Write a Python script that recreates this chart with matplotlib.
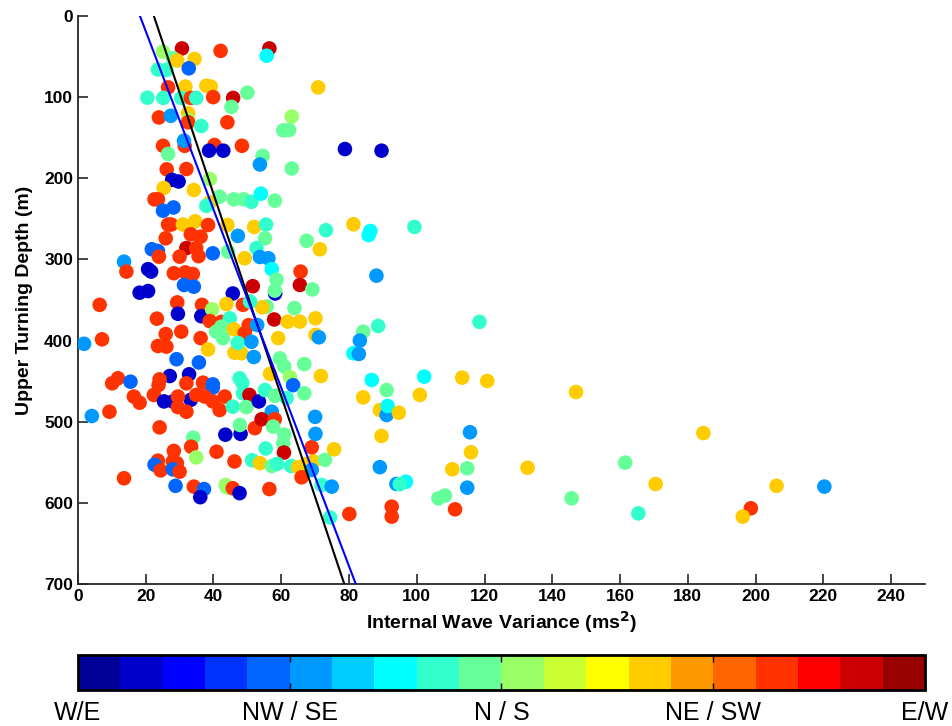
import numpy as np
import matplotlib
matplotlib.use('Agg')
import matplotlib.pyplot as plt
from matplotlib.colors import ListedColormap, BoundaryNorm
from matplotlib.cm import ScalarMappable

plt.rcParams['font.family'] = ['Liberation Sans', 'DejaVu Sans']

# internal wave variance (ms^2), upper turning depth (m), direction class (0..19)
variance = [30.7, 42.1, 25.1, 28.0, 29.3, 34.4, 23.6, 26.1, 32.7, 26.6,
            31.7, 37.9, 39.2, 50.0, 20.5, 25.2, 30.5, 33.3, 34.9, 39.9,
            45.8, 45.3, 23.9, 27.4, 32.5, 32.5, 32.5, 36.4, 44.1, 31.5,
            31.3, 25.1, 40.3, 38.7, 42.9, 48.4, 26.6, 26.2, 32.0, 38.9,
            27.8, 29.7, 25.3, 34.2, 41.8, 46.0, 48.9, 51.2, 22.6, 23.6,
            38.9, 37.9, 25.1, 28.2, 26.6, 27.5, 31.0, 34.6, 38.4, 44.1,
            56.5, 55.7, 70.9, 63.1, 60.6, 62.3, 78.8, 89.6, 54.5, 53.7,
            63.1, 54.0, 58.1, 52.0, 55.5, 73.2, 81.3, 86.3, 85.8, 99.3,
            47.2, 25.9, 33.3, 36.2, 21.8, 23.6, 32.0, 34.9, 35.6, 30.0,
            23.9, 39.8, 44.3, 49.2, 13.6, 14.3, 20.7, 21.6, 28.3, 31.7,
            33.9, 31.3, 34.2, 18.2, 20.7, 45.7, 51.6, 6.4, 29.3, 29.5,
            36.6, 36.4, 39.6, 43.8, 48.7, 23.3, 38.9, 42.3, 44.8, 42.3,
            40.8, 42.8, 46.0, 49.2, 50.4, 30.5, 25.9, 36.2, 7.1, 1.8,
            23.6, 26.1, 38.4, 46.2, 48.2, 47.2, 51.2, 51.9, 29.1, 35.7,
            27.1, 32.8, 11.8, 10.1, 15.5, 24.1, 23.8, 32.0, 36.9, 39.8,
            39.8, 47.7, 48.5, 48.7, 50.6, 16.5, 18.2, 22.4, 25.4, 28.0,
            33.3, 29.5, 29.5, 32.0, 34.9, 37.4, 39.8, 41.8, 43.3, 45.7,
            49.7, 9.3, 4.1, 24.1, 34.0, 33.4, 34.9, 43.5, 48.0, 47.8,
            52.2, 40.9, 46.2, 28.3, 23.6, 22.6, 24.4, 28.0, 29.2, 28.0,
            30.0, 13.6, 28.8, 34.2, 37.2, 36.1, 43.6, 44.0, 45.7, 47.7,
            51.4, 55.2, 52.7, 53.7, 56.2, 57.2, 67.5, 71.4, 88.1, 65.7,
            65.5, 58.6, 58.2, 58.1, 69.2, 55.7, 54.4, 63.9, 57.9, 61.9,
            65.5, 70.1, 52.9, 59.1, 70.1, 71.1, 84.2, 83.2, 88.6, 81.3,
            82.9, 59.6, 60.9, 66.8, 56.7, 62.6, 71.7, 63.5, 86.7, 91.1,
            53.4, 55.2, 58.1, 61.6, 66.8, 57.2, 70.0, 84.2, 89.1, 91.1,
            91.4, 94.7, 50.8, 54.2, 58.1, 57.6, 60.9, 60.6, 60.8, 55.4,
            53.7, 57.2, 58.8, 62.9, 65.0, 67.3, 69.5, 69.0, 66.0, 69.0,
            72.9, 75.6, 70.1, 71.9, 74.9, 74.4, 56.5, 80.1, 89.6, 89.1,
            92.6, 92.6, 94.0, 96.8, 95.0, 118.5, 102.2, 100.9, 113.4, 120.8,
            147.0, 115.7, 116.0, 110.5, 114.9, 132.7, 161.5, 170.5, 114.9, 106.4,
            108.3, 111.3, 145.7, 165.4, 184.6, 206.2, 220.3, 198.6, 196.2]

depth = [40, 43, 44, 52, 55, 53, 66, 66.5, 64.5, 88,
         87, 86, 87, 94.5, 100.7, 101, 101, 101, 101, 100,
         101, 112, 125, 123, 120, 128, 131, 135.6, 131, 160,
         153.7, 160, 159, 166, 166, 160, 170, 189, 188.6, 201,
         202, 204, 212, 214.5, 222.7, 226, 226, 229, 226, 226,
         230, 234, 240, 236, 257, 257, 257, 253, 257.6, 257.6,
         40, 49, 88, 124, 141, 140.5, 164, 166, 172.5, 183,
         188, 219, 227.6, 260, 257, 264, 256.7, 265, 270, 260,
         271, 274, 269, 272, 287.5, 289.6, 286, 286, 296, 296.6,
         296.6, 292.5, 290.5, 298.6, 302.8, 315, 312, 315, 317, 316,
         318, 331.5, 333.6, 341, 339, 342, 333, 356, 353, 367,
         356, 370, 361.5, 355, 356, 373, 376, 377, 372.6, 383,
         389, 397, 386, 391, 381, 389, 392, 397, 398.5, 404,
         406.7, 407.5, 411, 415, 415.7, 403, 401.5, 420.3, 423, 427,
         443.7, 441.6, 446.5, 452.7, 450.7, 447.8, 454.8, 452.7, 451.9, 454,
         458, 446.5, 452, 465, 467, 469, 476.6, 467, 475, 475,
         473, 469, 482, 487.7, 467, 469, 475, 485.6, 469, 481.5,
         482, 487.7, 493, 507, 519.7, 530.8, 544, 516, 515, 504,
         508, 537, 549, 536, 548, 553, 560, 549, 551, 558.7,
         561.6, 569.7, 579, 580, 583, 593, 578, 581, 582, 588,
         547.5, 274, 286, 297, 298.6, 312, 277, 287.5, 320, 315,
         331.5, 325, 342, 338.5, 337, 358, 359, 360, 374, 376.7,
         376.7, 372.6, 380.8, 397, 393, 396, 389, 400, 382, 415.7,
         416.5, 422, 432, 429, 441, 445, 443.7, 455, 448.6, 461,
         475, 461, 468, 471, 465, 487.7, 494, 470, 485.6, 491.7,
         480.6, 488.9, 352, 497, 497, 506, 516, 526.6, 538, 533,
         551, 554.6, 552, 554.6, 556, 552, 549, 559.5, 568.5, 531.5,
         547, 534, 515, 578, 580, 618, 583, 613.7, 517.6, 556,
         604.7, 617, 576.7, 574, 577, 377, 444.5, 467, 445.7, 449.8,
         463.4, 513, 537.7, 558.6, 557.4, 556.7, 550.5, 576.8, 581.3, 594.4,
         591, 608, 594.4, 613, 514, 579, 580, 606.7, 617]

direction = [18, 16, 10, 9, 13, 13, 8, 8, 4, 16,
             13, 13, 13, 9, 8, 8, 8, 16, 8, 16,
             18, 9, 16, 5, 13, 10, 16, 8, 16, 16,
             5, 16, 16, 1, 1, 16, 9, 16, 16, 10,
             1, 1, 13, 13, 9, 9, 9, 8, 16, 16,
             13, 8, 4, 4, 16, 16, 13, 13, 16, 13,
             18, 7, 13, 10, 9, 9, 1, 1, 9, 5,
             9, 7, 9, 13, 8, 8, 13, 7, 7, 8,
             5, 16, 16, 16, 4, 4, 18, 16, 16, 16,
             16, 4, 9, 13, 5, 16, 1, 1, 16, 16,
             16, 4, 4, 1, 1, 1, 18, 16, 16, 1,
             16, 1, 10, 13, 16, 16, 16, 16, 8, 9,
             9, 9, 13, 16, 16, 16, 16, 16, 16, 5,
             16, 16, 13, 13, 13, 8, 5, 5, 4, 4,
             1, 1, 16, 16, 4, 16, 16, 16, 16, 4,
             4, 8, 8, 8, 18, 16, 16, 16, 1, 1,
             1, 16, 16, 16, 16, 16, 16, 16, 16, 8,
             9, 16, 5, 16, 9, 16, 10, 1, 1, 9,
             16, 16, 16, 16, 16, 4, 16, 16, 16, 4,
             16, 16, 4, 16, 4, 1, 10, 10, 16, 1,
             8, 9, 8, 5, 5, 7, 9, 13, 5, 16,
             18, 9, 1, 9, 9, 9, 13, 9, 18, 13,
             13, 13, 5, 13, 13, 5, 9, 5, 8, 7,
             5, 9, 9, 9, 13, 10, 13, 4, 7, 9,
             1, 8, 9, 8, 9, 5, 5, 13, 13, 5,
             7, 13, 8, 18, 16, 9, 9, 9, 18, 8,
             13, 9, 8, 8, 13, 13, 13, 5, 16, 16,
             9, 13, 5, 8, 5, 8, 16, 16, 13, 5,
             16, 16, 5, 7, 8, 8, 7, 13, 13, 13,
             13, 5, 13, 13, 9, 13, 9, 13, 5, 9,
             9, 16, 9, 8, 13, 13, 5, 16, 13]

# linear fits: variance = a + b * depth
black_fit = (22.4, 0.0803)
blue_fit = (18.3, 0.091)

direction_labels = ['W/E', 'NW / SE', 'N / S', 'NE / SW', 'E/W']

# 20 level jet palette as in the colour bar
jet20 = ['#000099', '#0000CC', '#0000FF', '#0033FF', '#0066FF',
         '#0099FF', '#00CCFF', '#00FFFF', '#33FFCC', '#66FF99',
         '#99FF66', '#CCFF33', '#FFFF00', '#FFCC00', '#FF9900',
         '#FF6600', '#FF3300', '#FF0000', '#CC0000', '#990000']
cmap = ListedColormap(jet20)
norm = BoundaryNorm(np.arange(21), 20)

fig = plt.figure(figsize=(9.53, 7.26), dpi=100)
ax = fig.add_axes([0.0818, 0.1956, 0.8888, 0.7824])

ax.scatter(variance, depth, c=np.array(direction) + 0.5, cmap=cmap, norm=norm,
           s=110, edgecolors='none', zorder=3)

d = np.array([0, 700])
ax.plot(black_fit[0] + black_fit[1] * d, d, color='black', lw=1.5, zorder=4)
ax.plot(blue_fit[0] + blue_fit[1] * d, d, color='blue', lw=1.5, zorder=4)

ax.set_xlim(0, 250)
ax.set_ylim(700, 0)
ax.set_xticks(np.arange(0, 241, 20))
ax.set_yticks(np.arange(0, 701, 100))
for s in ['top', 'right']:
    ax.spines[s].set_visible(False)
for s in ['left', 'bottom']:
    ax.spines[s].set_linewidth(1.3)
    ax.spines[s].set_color('#262626')
ax.tick_params(direction='in', length=7, width=1.2, labelsize=12.5, color='#262626')
for lab in ax.get_xticklabels() + ax.get_yticklabels():
    lab.set_fontweight('bold')
ax.set_xlabel(r'Internal Wave Variance (ms$^\mathbf{2}$)', fontsize=14, fontweight='bold', labelpad=4)
ax.set_ylabel('Upper Turning Depth (m)', fontsize=14, fontweight='bold', labelpad=8)

cax = fig.add_axes([0.0818, 0.0496, 0.8888, 0.0482])
cb = fig.colorbar(ScalarMappable(norm=norm, cmap=cmap), cax=cax, orientation='horizontal')
cb.set_ticks([0, 5, 10, 15, 20])
cb.minorticks_off()
cb.set_ticklabels(direction_labels)
cb.outline.set_linewidth(2)
cax.tick_params(direction='in', length=5, width=1, top=True, bottom=True, labelsize=18, pad=8)

fig.savefig('out.png', dpi=100)
